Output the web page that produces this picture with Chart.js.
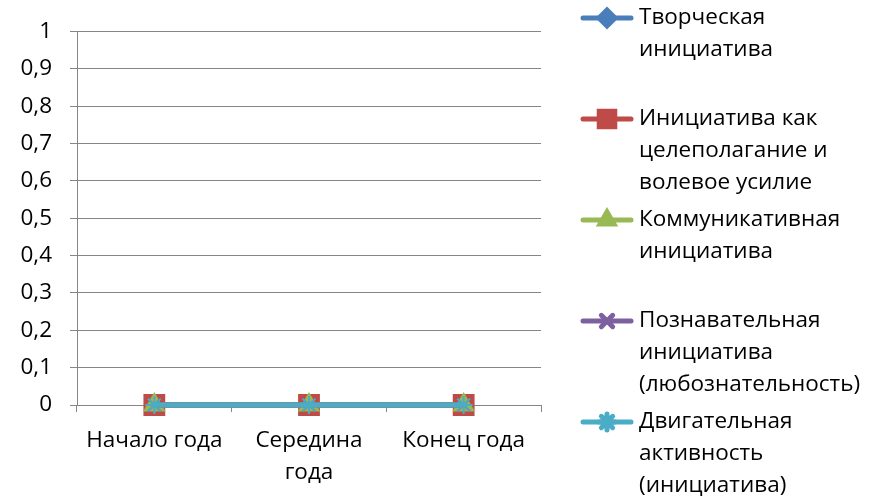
<!DOCTYPE html>
<html>
<head>
<meta charset="utf-8">
<script src="https://cdn.jsdelivr.net/npm/chart.js@4"></script>
<style>
  html, body { margin: 0; padding: 0; background: #fff; }
  #wrap { width: 869px; height: 497px; }
</style>
</head>
<body>
<div id="wrap"><canvas id="chart"></canvas></div>
<script>
const categories = ['Начало года', ['Середина', 'года'], 'Конец года'];

const seriesNames = [
  ['Творческая', 'инициатива'],
  ['Инициатива как', 'целеполагание и', 'волевое усилие'],
  ['Коммуникативная', 'инициатива'],
  ['Познавательная', 'инициатива', '(любознательность)'],
  ['Двигательная', 'активность', '(инициатива)']
];

const creativeValues = [0, 0, 0];
const goalValues = [0, 0, 0];
const communicativeValues = [0, 0, 0];
const cognitiveValues = [0, 0, 0];
const motorValues = [0, 0, 0];

const FONT = '"Open Sans", sans-serif';
const FSIZE = 22.5;
const GRID = '#868686';

function series(i, data, color, style, radius, order) {
  return {
    label: seriesNames[i],
    data: data,
    borderColor: color,
    backgroundColor: color,
    pointBackgroundColor: color,
    pointBorderColor: color,
    borderWidth: 5,
    pointStyle: style,
    pointRadius: radius,
    pointBorderWidth: 2,
    order: order,
    clip: false
  };
}

// legend drawn by hand so that the items sit in equal slots like the original
const sideLegend = {
  id: 'sideLegend',
  afterDraw(chart) {
    const ctx = chart.ctx;
    const x0 = 583, x1 = 631, xm = 607, tx = 639;
    ctx.save();
    ctx.font = FSIZE + 'px ' + FONT;
    ctx.textBaseline = 'middle';
    ctx.textAlign = 'left';
    chart.data.datasets.forEach((ds, i) => {
      const y = 18 + i * 101;
      ctx.strokeStyle = ds.borderColor;
      ctx.lineWidth = 5;
      ctx.lineCap = 'round';
      ctx.beginPath();
      ctx.moveTo(x0, y);
      ctx.lineTo(x1, y);
      ctx.stroke();
      Chart.helpers.drawPoint(ctx, {
        pointStyle: ds.pointStyle,
        radius: ds.pointStyle === 'rect' ? 11 : 8,
        borderWidth: 2,
        rotation: 0
      }, xm, y);
      ctx.fillStyle = ds.borderColor;
      ctx.strokeStyle = ds.borderColor;
      ctx.lineWidth = 2;
      ctx.fill();
      ctx.stroke();
      ctx.fillStyle = '#000';
      ds.label.forEach((line, k) => {
        ctx.fillText(line, tx, y + k * 32);
      });
    });
    ctx.restore();
  }
};

new Chart(document.getElementById('chart'), {
  type: 'line',
  data: {
    labels: categories,
    datasets: [
      series(0, creativeValues, '#4A7EBB', 'rectRot', 9, 5),
      series(1, goalValues, '#BE4B48', 'rect', 14, 4),
      series(2, communicativeValues, '#98B954', 'triangle', 11, 3),
      series(3, cognitiveValues, '#7D60A0', 'crossRot', 9, 2),
      series(4, motorValues, '#4BACC6', 'star', 9, 1)
    ]
  },
  options: {
    responsive: true,
    maintainAspectRatio: false,
    animation: false,
    layout: { padding: { top: 27, right: 328, left: 0, bottom: 0 } },
    plugins: {
      legend: { display: false },
      tooltip: { enabled: false },
      title: { display: false }
    },
    scales: {
      x: {
        offset: true,
        grid: {
          offset: true,
          drawOnChartArea: false,
          color: GRID,
          tickLength: 7,
          tickColor: GRID
        },
        border: { color: GRID, width: 1 },
        ticks: {
          color: '#000',
          font: { family: FONT, size: FSIZE, lineHeight: 32 / FSIZE },
          padding: 13,
          maxRotation: 0,
          autoSkip: false
        },
        afterFit(scale) { scale.height = 92; }
      },
      y: {
        min: 0,
        max: 1,
        grid: {
          color: GRID,
          tickLength: 7,
          tickColor: GRID
        },
        border: { color: GRID, width: 1 },
        ticks: {
          stepSize: 0.1,
          color: '#000',
          font: { family: FONT, size: FSIZE },
          padding: 18,
          callback: v => String(Math.round(v * 10) / 10).replace('.', ',')
        },
        afterFit(scale) { scale.width = 77; }
      }
    }
  },
  plugins: [sideLegend]
});
</script>
</body>
</html>
